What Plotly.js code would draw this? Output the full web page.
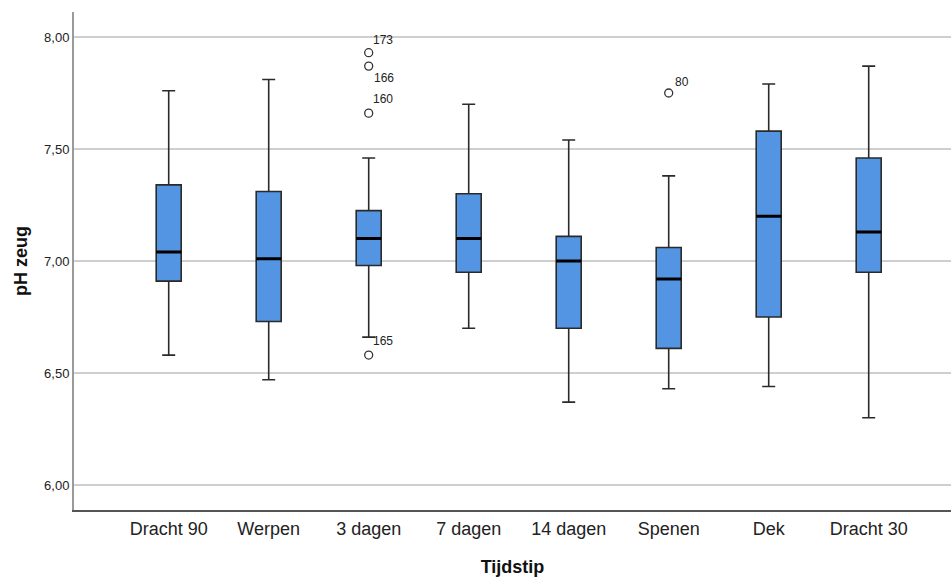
<!DOCTYPE html>
<html>
<head>
<meta charset="utf-8">
<script src="https://cdn.plot.ly/plotly-3.0.1.min.js"></script>
<style>html,body{margin:0;padding:0;background:#fff;}#chart{width:951px;height:577px;}</style>
</head>
<body>
<div id="chart"></div>
<script>
// Data
var categories = ["Dracht 90", "Werpen", "3 dagen", "7 dagen", "14 dagen", "Spenen", "Dek", "Dracht 30"];
var lowerWhisker = [6.58, 6.47, 6.66, 6.70, 6.37, 6.43, 6.44, 6.30];
var q1Values     = [6.91, 6.73, 6.98, 6.95, 6.70, 6.61, 6.75, 6.95];
var medianValues = [7.04, 7.01, 7.10, 7.10, 7.00, 6.92, 7.20, 7.13];
var q3Values     = [7.34, 7.31, 7.225, 7.30, 7.11, 7.06, 7.58, 7.46];
var upperWhisker = [7.76, 7.81, 7.46, 7.70, 7.54, 7.38, 7.79, 7.87];

var outlierCategory = ["3 dagen", "3 dagen", "3 dagen", "3 dagen", "Spenen"];
var outlierValues   = [7.93, 7.87, 7.66, 6.58, 7.75];
var outlierLabels   = ["173", "166", "160", "165", "80"];

var fontFam = "'Liberation Sans', Arial, sans-serif";

var boxTrace = {
  type: 'box',
  x: categories,
  q1: q1Values,
  median: medianValues,
  q3: q3Values,
  lowerfence: lowerWhisker,
  upperfence: upperWhisker,
  width: 0.25,
  whiskerwidth: 0.52,
  fillcolor: '#5495e3',
  line: {color: '#2a2a2a', width: 1.6},
  boxpoints: false,
  hoverinfo: 'skip',
  showlegend: false
};

// Thick median line drawn as a degenerate box
var medianTrace = {
  type: 'box',
  x: categories,
  q1: medianValues,
  median: medianValues,
  q3: medianValues,
  lowerfence: medianValues,
  upperfence: medianValues,
  width: 0.25,
  whiskerwidth: 0,
  fillcolor: 'rgba(0,0,0,0)',
  line: {color: '#000000', width: 3},
  boxpoints: false,
  hoverinfo: 'skip',
  showlegend: false
};

var outlierTrace = {
  type: 'scatter',
  mode: 'markers',
  x: outlierCategory,
  y: outlierValues,
  marker: {symbol: 'circle-open', size: 8, color: '#333333', line: {width: 1.3, color: '#333333'}},
  hoverinfo: 'skip',
  showlegend: false
};

// label offsets (pixels) relative to each outlier marker
var labelShiftY = [13, -12, 14, 14, 11];
var labelShiftX = [2, 3, 2, 2, 4];
var annotations = outlierLabels.map(function(t, i) {
  return {
    x: outlierCategory[i], y: outlierValues[i], xref: 'x', yref: 'y',
    text: t, showarrow: false, xanchor: 'left', yanchor: 'middle',
    xshift: labelShiftX[i], yshift: labelShiftY[i],
    font: {family: fontFam, size: 12, color: '#222222'}
  };
});

var layout = {
  width: 951, height: 577,
  margin: {l: 74, r: 0, t: 12, b: 67},
  paper_bgcolor: '#ffffff', plot_bgcolor: '#ffffff',
  boxmode: 'overlay',
  separators: ',.',
  showlegend: false,
  xaxis: {
    type: 'category',
    categoryarray: categories,
    range: [-0.947, 7.823],
    showgrid: false, zeroline: false,
    showline: true, linecolor: '#555555', linewidth: 1.5,
    ticks: 'outside', ticklen: 2, tickcolor: 'rgba(0,0,0,0)',
    tickfont: {family: fontFam, size: 18, color: '#222222'},
    title: {text: '<b>Tijdstip</b>', font: {family: fontFam, size: 18, color: '#111111'}, standoff: 22}
  },
  yaxis: {
    range: [5.8884, 8.1116],
    tickvals: [6, 6.5, 7, 7.5, 8],
    tickformat: '.2f',
    showgrid: true, gridcolor: '#cfcfcf', gridwidth: 1.5,
    zeroline: false,
    showline: true, linecolor: '#9a9a9a', linewidth: 2,
    ticks: '',
    tickfont: {family: fontFam, size: 13, color: '#222222'},
    title: {text: '<b>pH zeug</b>', font: {family: fontFam, size: 18, color: '#111111'}, standoff: 12}
  },
  annotations: annotations
};

Plotly.newPlot('chart', [boxTrace, medianTrace, outlierTrace], layout, {displayModeBar: false, staticPlot: true});
</script>
</body>
</html>
